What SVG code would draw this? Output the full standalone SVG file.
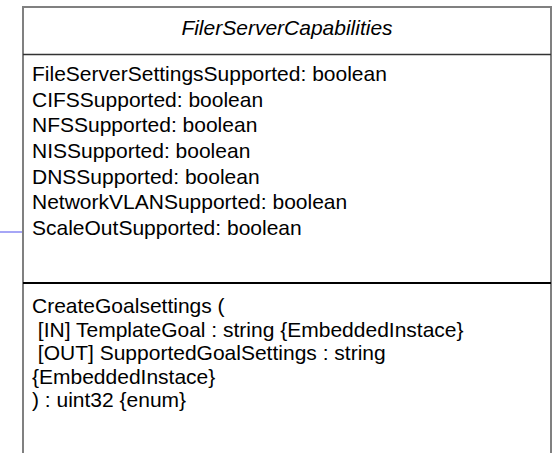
<svg xmlns="http://www.w3.org/2000/svg" width="555" height="453" viewBox="0 0 555 453">
<style>
text{font-family:"Liberation Sans",Arial,sans-serif;font-size:21px;fill:#000}
.title{font-style:italic;text-anchor:middle}
</style>
<rect width="555" height="453" fill="#fff"/>
<g id="connectors">
<line x1="0" y1="232" x2="22" y2="232" stroke="#6b6bf0" stroke-width="1.2"/>
</g>
<g id="FilerServerCapabilities">
<rect x="23" y="7" width="528" height="460" fill="#fff" stroke="#808080" stroke-width="2"/>
<line x1="23" y1="54.5" x2="551" y2="54.5" stroke="#333" stroke-width="1.5"/>
<line x1="23" y1="283" x2="551" y2="283" stroke="#000" stroke-width="2"/>
<text class="title" x="287" y="35">FilerServerCapabilities</text>
<text x="32" y="81">FileServerSettingsSupported: boolean</text>
<text x="32" y="106.7">CIFSSupported: boolean</text>
<text x="32" y="132.3">NFSSupported: boolean</text>
<text x="32" y="158">NISSupported: boolean</text>
<text x="32" y="183.7">DNSSupported: boolean</text>
<text x="32" y="209.3">NetworkVLANSupported: boolean</text>
<text x="32" y="235">ScaleOutSupported: boolean</text>
<text x="32" y="313">CreateGoalsettings (</text>
<text x="32" y="336.5" xml:space="preserve"> [IN] TemplateGoal : string {EmbeddedInstace}</text>
<text x="32" y="360" xml:space="preserve"> [OUT] SupportedGoalSettings : string</text>
<text x="32" y="383.5">{EmbeddedInstace}</text>
<text x="32" y="407">) : uint32 {enum}</text>
</g>
</svg>
